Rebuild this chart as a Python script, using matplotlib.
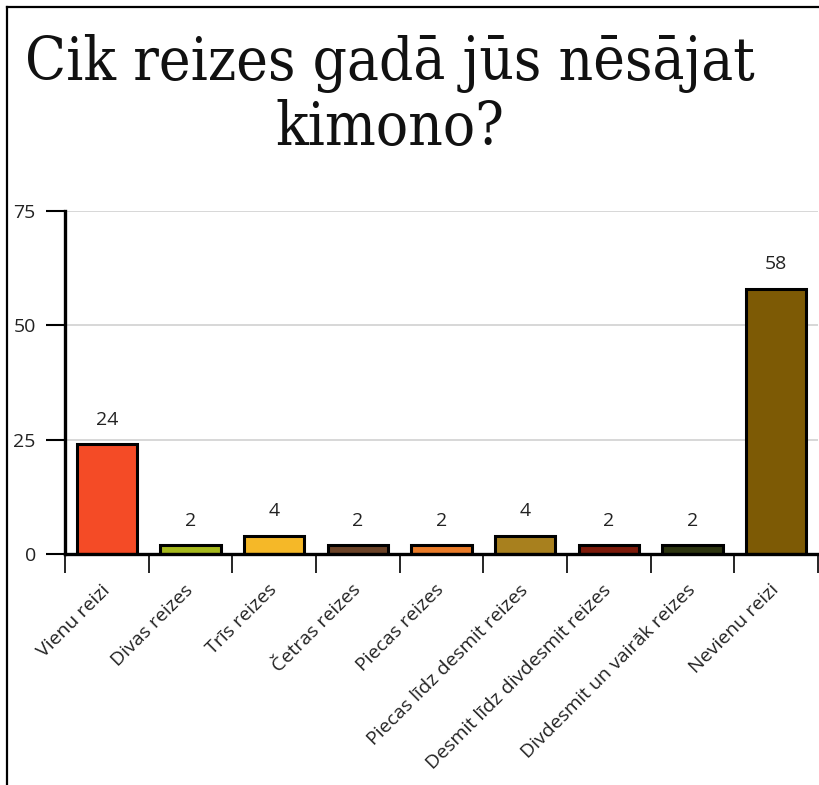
import matplotlib.pyplot as plt
from matplotlib.lines import Line2D
import numpy as np

title_lines = ["Cik reizes gadā jūs nēsājat", "kimono?"]
categories = ["Vienu reizi", "Divas reizes", "Trīs reizes", "Četras reizes",
              "Piecas reizes", "Piecas līdz desmit reizes",
              "Desmit līdz divdesmit reizes", "Divdesmit un vairāk reizes",
              "Nevienu reizi"]
values = [24, 2, 4, 2, 2, 4, 2, 2, 58]
colors = ["#f44b26", "#a5b81c", "#f5b828", "#6b4227", "#ea7b28",
          "#a8801e", "#7d1a0a", "#2d3510", "#7d5a05"]
yticks = [0, 25, 50, 75]

plt.rcParams['font.family'] = ['Open Sans', 'DejaVu Sans']

fig = plt.figure(figsize=(8.2, 7.85), dpi=100)
ax = fig.add_axes([65/820, 1-554/785, 753/820, (554-211)/785])

x = np.arange(len(categories))
ax.bar(x, values, width=0.72, color=colors, edgecolor='black', linewidth=2.2, zorder=3)
for xi, v in zip(x, values):
    ax.annotate(str(v), (xi, v), xytext=(0, 11), textcoords='offset points',
                ha='center', va='bottom', fontsize=14, color='#222222')

ax.set_xlim(-0.5, len(categories) - 0.5)
ax.set_ylim(0, 75)
ax.set_yticks(yticks)
ax.set_yticklabels([str(t) for t in yticks], fontsize=14, color='#222222')
ax.tick_params(axis='y', length=14, width=1.5, pad=7)
ax.grid(axis='y', color='#d4d4d4', linewidth=1.3, zorder=0)

ax.set_xticks(np.arange(len(categories) + 1) - 0.5)
ax.set_xticklabels([])
ax.tick_params(axis='x', which='major', length=14, width=1.2)
ax.set_xticks(x, minor=True)
ax.set_xticklabels(categories, minor=True, rotation=45, ha='right', va='center',
                   rotation_mode='anchor', fontsize=14, color='#222222')
ax.tick_params(axis='x', which='minor', length=0, pad=24)

for s in ['top', 'right']:
    ax.spines[s].set_visible(False)
ax.spines['left'].set_linewidth(2.4)
ax.spines['bottom'].set_linewidth(2.4)
ax.spines['bottom'].set_zorder(4)

for line, base in zip(title_lines, [80, 145]):
    fig.text(390/820, 1-base/785, line, ha='center', va='baseline', fontsize=43,
             family='DejaVu Serif', fontstretch='condensed', color='#111111')

fig.add_artist(Line2D([7/820, 7/820], [0, 1-7/785], color='black', linewidth=1.6,
                      transform=fig.transFigure))
fig.add_artist(Line2D([7/820, 1], [1-7/785, 1-7/785], color='black', linewidth=1.6,
                      transform=fig.transFigure))

fig.savefig("out.png", dpi=100)
